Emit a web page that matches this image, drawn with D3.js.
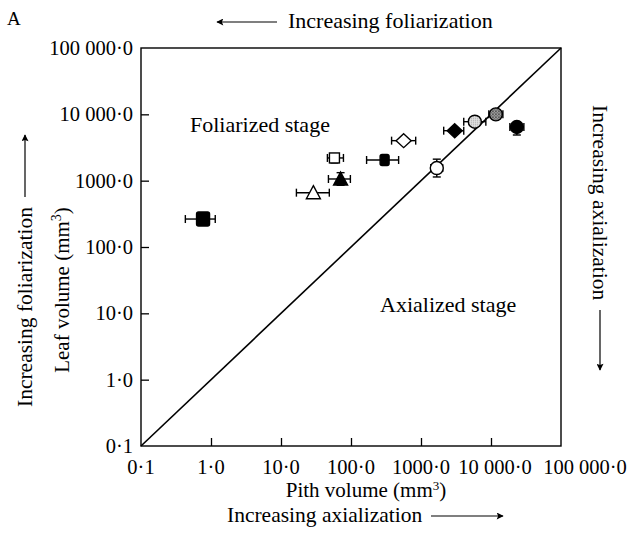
<!DOCTYPE html>
<html>
<head>
<meta charset="utf-8">
<script src="https://cdn.jsdelivr.net/npm/d3@7"></script>
<style>
  body { margin: 0; background: #fff; }
  text { font-family: "Liberation Serif", "Times New Roman", serif; fill: #000; }
</style>
</head>
<body>
<svg width="629" height="533"></svg>
<script>
// DATA
var markers = ["bigSquareFilled", "triangleOpen", "triangleFilled", "squareOpen", "squareSmallFilled",
               "diamondOpen", "circleOpen", "diamondFilled", "circleLight", "circleHatched", "circleFilled"];
var pith    = [0.77, 29, 71, 58, 302, 565, 1680, 3030, 5870, 11730, 23400];
var pithLo  = [0.43, 16.6, 47.6, 46, 167, 380, 1380, 2110, 4080, 9310, 18600];
var pithHi  = [1.15, 49, 98, 78, 479, 840, 2040, 4080, 8440, 14790, 29500];
var leaf    = [264, 659, 1060, 2200, 2050, 4010, 1550, 5670, 7750, 10000, 6440];
var leafLo  = [null, null, 851, 1850, null, null, 1137, null, null, null, 4880];
var leafHi  = [null, null, 1320, 2500, null, null, 2110, null, null, null, 7650];
var tickVals   = [0.1, 1, 10, 100, 1000, 10000, 100000];
var tickLabels = ["0·1", "1·0", "10·0", "100·0", "1000·0", "10 000·0", "100 000·0"];

var svg = d3.select("svg");
var mLeft = 141, mRight = 561, mTop = 48, mBottom = 446;

var x = d3.scaleLog().domain([0.1, 100000]).range([mLeft, mRight]);
var y = d3.scaleLog().domain([0.1, 100000]).range([mBottom, mTop]);

// patterns for the two grey circles
var defs = svg.append("defs");
var hatch = defs.append("pattern").attr("id", "hatch").attr("patternUnits", "userSpaceOnUse")
    .attr("width", 3).attr("height", 3);
hatch.append("rect").attr("width", 3).attr("height", 3).attr("fill", "#b0b0b0");
hatch.append("path").attr("d", "M0,0L3,3M3,0L0,3").attr("stroke", "#444").attr("stroke-width", 0.8);
var dots = defs.append("pattern").attr("id", "dots").attr("patternUnits", "userSpaceOnUse")
    .attr("width", 2).attr("height", 2);
dots.append("rect").attr("width", 2).attr("height", 2).attr("fill", "#e4e4e4");
dots.append("rect").attr("width", 1).attr("height", 1).attr("fill", "#9a9a9a");

var arrow = defs.append("marker").attr("id", "arrow").attr("viewBox", "0 0 10 10")
    .attr("refX", 9).attr("refY", 5).attr("markerWidth", 11).attr("markerHeight", 7)
    .attr("markerUnits", "userSpaceOnUse").attr("orient", "auto");
arrow.append("path").attr("d", "M0,0L10,5L0,10L2,5z").attr("fill", "#000");

// frame
svg.append("rect").attr("x", mLeft).attr("y", mTop).attr("width", mRight - mLeft).attr("height", mBottom - mTop)
    .attr("fill", "none").attr("stroke", "#000").attr("stroke-width", 1.4);

// axes (inward ticks, labels drawn separately)
var xAxis = d3.axisTop(x).tickValues(tickVals.slice(1, -1)).tickSize(8).tickFormat("");
svg.append("g").attr("transform", "translate(0," + mBottom + ")").call(xAxis)
    .call(function(g) { g.select(".domain").remove(); g.selectAll("line").attr("stroke-width", 1.3); });
var yAxis = d3.axisRight(y).tickValues(tickVals.slice(1, -1)).tickSize(8).tickFormat("");
svg.append("g").attr("transform", "translate(" + mLeft + ",0)").call(yAxis)
    .call(function(g) { g.select(".domain").remove(); g.selectAll("line").attr("stroke-width", 1.3); });

// the two widest labels are pushed right so they don't collide
var xLabelShift = [0, 0, 0, 0, 0, 4, 24];
svg.selectAll(".xlab").data(tickVals).enter().append("text")
    .attr("x", function(d, i) { return x(d) + xLabelShift[i]; }).attr("y", 474)
    .attr("text-anchor", "middle").style("font-size", "20.5px")
    .text(function(d, i) { return tickLabels[i]; });
svg.selectAll(".ylab").data(tickVals).enter().append("text")
    .attr("x", 133).attr("y", function(d) { return y(d) + 7; })
    .attr("text-anchor", "end").style("font-size", "20.5px")
    .text(function(d, i) { return tickLabels[i]; });

// 1:1 line
svg.append("line").attr("x1", x(0.1)).attr("y1", y(0.1)).attr("x2", x(100000)).attr("y2", y(100000))
    .attr("stroke", "#000").attr("stroke-width", 1.6);

// error bars
var pts = markers.map(function(m, i) {
  return { m: m, x: pith[i], y: leaf[i], xl: pithLo[i], xh: pithHi[i], yl: leafLo[i], yh: leafHi[i] };
});
var eb = svg.append("g").attr("stroke", "#000").attr("stroke-width", 1.4);
pts.forEach(function(p) {
  var cx = x(p.x), cy = y(p.y);
  eb.append("line").attr("x1", x(p.xl)).attr("x2", x(p.xh)).attr("y1", cy).attr("y2", cy);
  [p.xl, p.xh].forEach(function(v) {
    eb.append("line").attr("x1", x(v)).attr("x2", x(v)).attr("y1", cy - 4).attr("y2", cy + 4);
  });
  if (p.yl != null) {
    eb.append("line").attr("x1", cx).attr("x2", cx).attr("y1", y(p.yl)).attr("y2", y(p.yh));
    [p.yl, p.yh].forEach(function(v) {
      eb.append("line").attr("x1", cx - 4).attr("x2", cx + 4).attr("y1", y(v)).attr("y2", y(v));
    });
  }
});

// markers
function shape(g, p) {
  var cx = x(p.x), cy = y(p.y);
  var s = g.append("g").attr("transform", "translate(" + cx + "," + cy + ")")
      .attr("stroke", "#000").attr("stroke-width", 1.4);
  switch (p.m) {
    case "bigSquareFilled":
      s.append("rect").attr("x", -6.5).attr("y", -7).attr("width", 13).attr("height", 14).attr("rx", 2).attr("fill", "#000"); break;
    case "squareOpen":
      s.append("rect").attr("x", -5).attr("y", -5).attr("width", 10).attr("height", 10).attr("fill", "#fff"); break;
    case "squareSmallFilled":
      s.append("rect").attr("x", -4.5).attr("y", -5.5).attr("width", 9).attr("height", 11).attr("rx", 2).attr("fill", "#000"); break;
    case "triangleOpen":
      s.append("path").attr("d", "M0,-7L7,6L-7,6Z").attr("fill", "#fff"); break;
    case "triangleFilled":
      s.append("path").attr("d", "M0,-7L7,6L-7,6Z").attr("fill", "#000"); break;
    case "diamondOpen":
      s.append("path").attr("d", "M0,-7L7.5,0L0,7L-7.5,0Z").attr("fill", "#fff"); break;
    case "diamondFilled":
      s.append("path").attr("d", "M0,-7L7.5,0L0,7L-7.5,0Z").attr("fill", "#000"); break;
    case "circleOpen":
      s.append("circle").attr("r", 6.5).attr("fill", "#fff"); break;
    case "circleFilled":
      s.append("circle").attr("r", 6.5).attr("fill", "#000"); break;
    case "circleLight":
      s.append("circle").attr("r", 6.5).attr("fill", "url(#dots)"); break;
    case "circleHatched":
      s.append("circle").attr("r", 6.5).attr("fill", "url(#hatch)"); break;
  }
}
var mg = svg.append("g");
pts.forEach(function(p) { shape(mg, p); });

// in-plot labels
svg.append("text").attr("x", 190).attr("y", 132).style("font-size", "22px").text("Foliarized stage");
svg.append("text").attr("x", 380).attr("y", 312).style("font-size", "22px").text("Axialized stage");

// axis titles
svg.append("text").attr("x", 7).attr("y", 25).style("font-size", "19px").text("A");
var xt = svg.append("text").attr("x", 366).attr("y", 497).attr("text-anchor", "middle").style("font-size", "21px");
xt.append("tspan").text("Pith volume (mm");
xt.append("tspan").attr("dy", -7).style("font-size", "13px").text("3");
xt.append("tspan").attr("dy", 7).text(")");
var yt = svg.append("text").attr("transform", "translate(69,290) rotate(-90)").attr("text-anchor", "middle").style("font-size", "21px");
yt.append("tspan").text("Leaf volume (mm");
yt.append("tspan").attr("dy", -8).style("font-size", "14px").text("3");
yt.append("tspan").attr("dy", 8).text(")");

// direction labels with arrows
svg.append("text").attr("x", 288).attr("y", 28).style("font-size", "22px").text("Increasing foliarization");
svg.append("line").attr("x1", 277).attr("y1", 22).attr("x2", 217).attr("y2", 22)
    .attr("stroke", "#000").attr("stroke-width", 1.2).attr("marker-end", "url(#arrow)");

svg.append("text").attr("x", 227).attr("y", 522).style("font-size", "21.5px").text("Increasing axialization");
svg.append("line").attr("x1", 431).attr("y1", 516).attr("x2", 503).attr("y2", 516)
    .attr("stroke", "#000").attr("stroke-width", 1.2).attr("marker-end", "url(#arrow)");

svg.append("text").attr("transform", "translate(32,407) rotate(-90)").style("font-size", "21.5px").text("Increasing foliarization");
svg.append("line").attr("x1", 25).attr("y1", 197).attr("x2", 25).attr("y2", 135)
    .attr("stroke", "#000").attr("stroke-width", 1.2).attr("marker-end", "url(#arrow)");

svg.append("text").attr("transform", "translate(593,105) rotate(90)").style("font-size", "21.5px").text("Increasing axialization");
svg.append("line").attr("x1", 600).attr("y1", 310).attr("x2", 600).attr("y2", 370)
    .attr("stroke", "#000").attr("stroke-width", 1.2).attr("marker-end", "url(#arrow)");
</script>
</body>
</html>
